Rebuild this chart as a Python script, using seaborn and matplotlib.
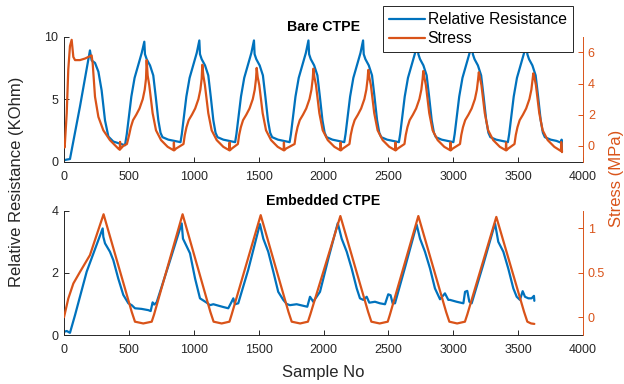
import matplotlib
matplotlib.use("Agg")
import matplotlib.pyplot as plt
from matplotlib.ticker import FormatStrFormatter
import pandas as pd
import seaborn as sns

# ---------------- data ----------------
bare_res_x = [0, 20, 46, 123, 200, 213, 239, 265, 290, 316, 342, 380, 444, 470,
              484, 499, 519, 544, 574, 599, 619, 624, 637, 663, 688, 707, 727, 744, 759, 804, 849, 898,
              908, 923, 943, 968, 998, 1023, 1043, 1048, 1061, 1087, 1112, 1131, 1151, 1168, 1183, 1228, 1273, 1319,
              1329, 1344, 1364, 1389, 1419, 1444, 1464, 1469, 1482, 1508, 1533, 1552, 1572, 1589, 1604, 1649, 1694, 1739,
              1749, 1764, 1784, 1809, 1839, 1864, 1884, 1889, 1902, 1928, 1953, 1972, 1992, 2009, 2024, 2069, 2114, 2160,
              2170, 2185, 2205, 2230, 2260, 2285, 2305, 2310, 2323, 2349, 2374, 2393, 2413, 2430, 2445, 2490, 2535, 2581,
              2591, 2606, 2626, 2651, 2681, 2706, 2726, 2731, 2744, 2770, 2795, 2814, 2834, 2851, 2866, 2911, 2956, 3001,
              3011, 3026, 3046, 3071, 3101, 3126, 3146, 3151, 3164, 3190, 3215, 3234, 3254, 3271, 3286, 3331, 3376, 3421,
              3431, 3446, 3466, 3491, 3521, 3546, 3566, 3571, 3584, 3610, 3635, 3654, 3674, 3691, 3706, 3751, 3796, 3832,
              3835, 3838]
bare_res_y = [0.1, 0.15, 0.2, 4.4, 8.9, 8.1, 7.9, 7.2, 5.7, 3.3, 2.0, 1.6, 1.38, 1.3,
              2.2, 3.5, 5.2, 6.7, 7.8, 8.7, 9.6, 8.6, 8.2, 7.7, 6.9, 5.2, 3.3, 2.3, 1.95, 1.75, 1.65, 1.55,
              2.2, 3.5, 5.2, 6.7, 7.8, 8.7, 9.7, 8.6, 8.2, 7.7, 6.9, 5.2, 3.3, 2.3, 1.95, 1.75, 1.65, 1.55,
              2.2, 3.5, 5.2, 6.7, 7.8, 8.7, 9.7, 8.6, 8.2, 7.7, 6.9, 5.2, 3.3, 2.3, 1.95, 1.75, 1.65, 1.55,
              2.2, 3.5, 5.2, 6.7, 7.8, 8.7, 9.7, 8.6, 8.2, 7.7, 6.9, 5.2, 3.3, 2.3, 1.95, 1.75, 1.65, 1.55,
              2.2, 3.5, 5.2, 6.7, 7.8, 8.7, 9.7, 8.6, 8.2, 7.7, 6.9, 5.2, 3.3, 2.3, 1.95, 1.75, 1.65, 1.55,
              2.2, 3.5, 5.2, 6.7, 7.8, 8.7, 9.7, 8.6, 8.2, 7.7, 6.9, 5.2, 3.3, 2.3, 1.95, 1.75, 1.65, 1.55,
              2.2, 3.5, 5.2, 6.7, 7.8, 8.7, 9.7, 8.6, 8.2, 7.7, 6.9, 5.2, 3.3, 2.3, 1.95, 1.75, 1.65, 1.55,
              2.2, 3.5, 5.2, 6.7, 7.8, 8.7, 9.7, 8.6, 8.2, 7.7, 6.9, 5.2, 3.3, 2.3, 1.95, 1.75, 1.65, 1.5,
              1.75, 0.8]

bare_stress_x = [0, 5, 21, 33, 46, 59, 72, 85, 123, 162, 213, 221, 239, 265, 303, 354, 418, 430, 432, 435, 457, 485,
                 502, 515, 532, 557, 582, 607, 622, 632, 637, 645, 657, 670, 683, 709, 748, 799, 845, 847, 850, 864, 921,
                 931, 944, 961, 986, 1011, 1036, 1051, 1061, 1066, 1074, 1086, 1099, 1112, 1138, 1177, 1228, 1274, 1276, 1279, 1293, 1340,
                 1350, 1363, 1380, 1405, 1430, 1455, 1470, 1480, 1485, 1493, 1505, 1518, 1531, 1557, 1596, 1647, 1693, 1695, 1698, 1712, 1777,
                 1787, 1800, 1817, 1842, 1867, 1892, 1907, 1917, 1922, 1930, 1942, 1955, 1968, 1994, 2033, 2084, 2130, 2132, 2135, 2149, 2200,
                 2210, 2223, 2240, 2265, 2290, 2315, 2330, 2340, 2345, 2353, 2365, 2378, 2391, 2417, 2456, 2507, 2553, 2555, 2558, 2572, 2624,
                 2634, 2647, 2664, 2689, 2714, 2739, 2754, 2764, 2769, 2777, 2789, 2802, 2815, 2841, 2880, 2931, 2977, 2979, 2982, 2996, 3052,
                 3062, 3075, 3092, 3117, 3142, 3167, 3182, 3192, 3197, 3205, 3217, 3230, 3243, 3269, 3308, 3359, 3405, 3407, 3410, 3424, 3472,
                 3482, 3495, 3512, 3537, 3562, 3587, 3602, 3612, 3617, 3625, 3637, 3650, 3663, 3689, 3728, 3779, 3830, 3832, 3835, 3838]
bare_stress_y = [0.05, -0.1, 2.1, 4.9, 6.4, 6.8, 5.7, 5.5, 5.5, 5.6, 5.8, 5.3, 3.15, 1.86, 1.0, 0.37, -0.17, -0.25, 0.26, -0.2, 0.0, 0.12,
                 0.7, 1.2, 1.65, 2.0, 2.4, 3.0, 3.6, 4.3, 5.5, 4.5, 3.9, 3.0, 2.1, 1.0, 0.37, -0.06, -0.28, 0.22, -0.28, -0.17, 0.12,
                 0.7, 1.2, 1.65, 2.0, 2.4, 3.0, 3.6, 4.3, 5.2, 4.5, 3.9, 3.0, 2.1, 1.0, 0.37, -0.06, -0.28, 0.22, -0.28, -0.17, 0.12,
                 0.7, 1.2, 1.65, 2.0, 2.4, 3.0, 3.6, 4.3, 5.0, 4.4, 3.9, 3.0, 2.1, 1.0, 0.37, -0.06, -0.28, 0.22, -0.28, -0.17, 0.12,
                 0.7, 1.2, 1.65, 2.0, 2.4, 3.0, 3.6, 4.3, 4.95, 4.4, 3.9, 3.0, 2.1, 1.0, 0.37, -0.06, -0.28, 0.22, -0.28, -0.17, 0.12,
                 0.7, 1.2, 1.65, 2.0, 2.4, 3.0, 3.6, 4.3, 4.87, 4.4, 3.9, 3.0, 2.1, 1.0, 0.37, -0.06, -0.28, 0.22, -0.28, -0.17, 0.12,
                 0.7, 1.2, 1.65, 2.0, 2.4, 3.0, 3.6, 4.3, 4.8, 4.4, 3.9, 3.0, 2.1, 1.0, 0.37, -0.06, -0.28, 0.22, -0.28, -0.17, 0.12,
                 0.7, 1.2, 1.65, 2.0, 2.4, 3.0, 3.6, 4.3, 4.72, 4.4, 3.9, 3.0, 2.1, 1.0, 0.37, -0.06, -0.28, 0.22, -0.28, -0.17, 0.12,
                 0.7, 1.2, 1.65, 2.0, 2.4, 3.0, 3.6, 4.3, 4.65, 4.4, 3.9, 3.0, 2.1, 1.0, 0.37, -0.06, -0.33, 0.25, -0.1, -0.4]

emb_res_x = [0, 21, 46, 85, 175, 298, 303, 316, 354, 380, 418, 457, 496, 522, 547, 598, 650, 668, 683, 695, 714, 810,
             907, 917, 940, 971, 1010, 1048, 1100, 1125, 1151, 1202, 1228, 1266, 1292, 1305, 1318, 1343, 1420,
             1510, 1536, 1574, 1613, 1651, 1690, 1716, 1741, 1793, 1844, 1875, 1896, 1909, 1921, 1973, 2040,
             2110, 2140, 2179, 2217, 2256, 2281, 2307, 2333, 2353, 2397, 2435, 2474, 2499, 2517, 2533, 2551, 2630,
             2718, 2744, 2782, 2821, 2859, 2898, 2936, 2962, 2975, 3026, 3078, 3091, 3108, 3124, 3142, 3230,
             3322, 3347, 3386, 3424, 3463, 3489, 3514, 3535, 3553, 3579, 3604, 3622, 3625]
emb_res_y = [0.1, 0.13, 0.07, 0.64, 2.04, 3.43, 3.16, 2.95, 2.68, 2.41, 1.82, 1.29, 1.02, 0.96, 0.86, 0.84, 0.8, 0.77, 1.05, 0.98, 1.05, 2.3,
             3.59, 3.1, 2.9, 2.63, 1.82, 1.18, 1.04, 0.96, 0.99, 0.93, 0.9, 0.86, 1.07, 1.18, 0.99, 1.02, 2.1,
             3.57, 3.1, 2.68, 2.04, 1.39, 1.13, 1.0, 0.96, 0.99, 0.94, 0.91, 1.23, 1.15, 1.07, 1.39, 2.5,
             3.6, 3.1, 2.68, 2.14, 1.5, 1.18, 1.13, 1.23, 1.04, 1.07, 1.02, 0.99, 1.31, 1.28, 1.02, 1.02, 2.2,
             3.55, 3.1, 2.68, 2.14, 1.5, 1.15, 1.34, 1.13, 1.13, 1.07, 1.02, 1.39, 1.42, 1.07, 1.02, 2.25,
             3.59, 3.0, 2.68, 2.14, 1.5, 1.23, 1.13, 1.41, 1.23, 1.18, 1.18, 1.26, 1.1]

emb_stress_x = [0, 33, 72, 123, 200, 305, 522, 547, 611, 676, 694,
                914, 1128, 1153, 1215, 1275, 1292,
                1516, 1730, 1755, 1820, 1880, 1898,
                2130, 2344, 2369, 2433, 2495, 2512,
                2731, 2945, 2970, 3030, 3090, 3108,
                3332, 3546, 3571, 3600, 3625]
emb_stress_y = [0.0, 0.21, 0.38, 0.51, 0.7, 1.16, 0.06, -0.05, -0.07, -0.05, 0.03,
                1.16, 0.06, -0.05, -0.07, -0.05, 0.03,
                1.15, 0.06, -0.05, -0.07, -0.05, 0.03,
                1.14, 0.06, -0.05, -0.07, -0.05, 0.03,
                1.14, 0.06, -0.05, -0.07, -0.05, 0.03,
                1.13, 0.06, -0.05, -0.07, -0.075]

x_ticks = [0, 500, 1000, 1500, 2000, 2500, 3000, 3500, 4000]
bare_left_ticks = [0, 5, 10]
bare_right_ticks = [0, 2, 4, 6]
emb_left_ticks = [0, 2, 4]
emb_right_ticks = [0, 0.5, 1]
titles = ["Bare CTPE", "Embedded CTPE"]
series_names = ["Relative Resistance", "Stress"]

# ---------------- style ----------------
sns.set_style("ticks")
plt.rcParams["font.family"] = ["Liberation Sans", "DejaVu Sans"]
BLUE = "#0072BD"
ORANGE = "#D95319"
DARK = "#262626"

W, H = 624, 384
fig = plt.figure(figsize=(W / 100, H / 100), dpi=100)


def frame(px_left, px_top, px_right, px_bottom):
    return [px_left / W, 1 - px_bottom / H, (px_right - px_left) / W, (px_bottom - px_top) / H]


def panel(rect, rx, ry, sx, sy, ylim_l, ylim_r, lt, rt, title):
    ax = fig.add_axes(rect)
    sns.lineplot(data=pd.DataFrame({"x": rx, "y": ry}), x="x", y="y", ax=ax,
                 color=BLUE, linewidth=1.6, sort=False, estimator=None)
    axr = ax.twinx()
    sns.lineplot(data=pd.DataFrame({"x": sx, "y": sy}), x="x", y="y", ax=axr,
                 color=ORANGE, linewidth=1.6, sort=False, estimator=None)
    ax.set_xlim(0, 4000)
    ax.set_ylim(*ylim_l)
    axr.set_ylim(*ylim_r)
    ax.set_xticks(x_ticks)
    ax.set_yticks(lt)
    axr.set_yticks(rt)
    axr.yaxis.set_major_formatter(FormatStrFormatter("%g"))
    ax.set_xlabel("")
    ax.set_ylabel("")
    axr.set_ylabel("")
    for a in (ax, axr):
        a.spines["top"].set_visible(False)
    ax.spines["right"].set_visible(False)
    axr.spines["left"].set_visible(False)
    axr.spines["bottom"].set_visible(False)
    for s in ("left", "bottom"):
        ax.spines[s].set_color(DARK)
        ax.spines[s].set_linewidth(0.7)
    axr.spines["right"].set_color(ORANGE)
    axr.spines["right"].set_linewidth(0.7)
    ax.tick_params(direction="in", length=3.5, width=0.7, colors=DARK, labelsize=9)
    ax.tick_params(axis="x", pad=6.5)
    ax.tick_params(axis="y", pad=4)
    axr.tick_params(direction="in", length=3.5, width=0.7, colors=ORANGE, labelsize=9, pad=3.5)
    ax.set_title(title, fontsize=10.2, fontweight="bold", pad=4, color="black")
    return ax, axr


ax1, ax1r = panel(frame(64, 36.7, 583, 161.5), bare_res_x, bare_res_y, bare_stress_x, bare_stress_y,
                  (0, 10), (-1, 7), bare_left_ticks, bare_right_ticks, titles[0])
ax2, ax2r = panel(frame(64, 210.7, 583, 335), emb_res_x, emb_res_y, emb_stress_x, emb_stress_y,
                  (0, 4), (-0.2, 1.2), emb_left_ticks, emb_right_ticks, titles[1])

fig.text(17 / W, 1 - 182 / H, "Relative Resistance (KOhm)", rotation=90,
         ha="center", va="center", fontsize=12, color=DARK)
fig.text(617 / W, 1 - 178 / H, "Stress (MPa)", rotation=90,
         ha="center", va="center", fontsize=12, color=ORANGE)
fig.text(323 / W, 1 - 372 / H, "Sample No", ha="center", va="center", fontsize=12, color=DARK)

handles = [ax1.get_lines()[0], ax1r.get_lines()[0]]
leg = fig.legend(handles, series_names, loc="upper left", bbox_to_anchor=(383 / W, 1 - 6 / H),
                 borderaxespad=0, fontsize=11.3, handlelength=2.3, handletextpad=0.15,
                 borderpad=0.4, labelspacing=0.25, fancybox=False, framealpha=1,
                 edgecolor=DARK)
leg.get_frame().set_linewidth(0.7)
for t in leg.get_texts():
    t.set_color("black")

fig.savefig("out.png", dpi=100)
